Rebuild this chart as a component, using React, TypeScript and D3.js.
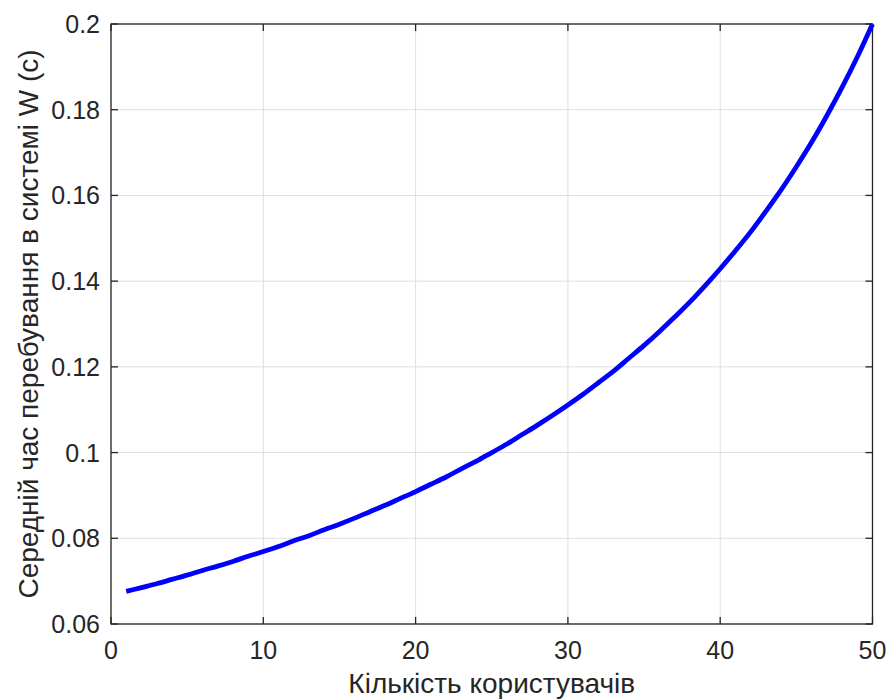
import React from "react";
import * as d3 from "d3";

const users = [1,2,3,4,5,6,7,8,9,10,11,12,13,14,15,16,17,18,19,20,21,22,23,24,25,26,27,28,29,30,31,32,33,34,35,36,37,38,39,40,41,42,43,44,45,46,47,48,49,50];
const waitTime = [0.0676,0.0685,0.0694,0.0704,0.0714,0.0725,0.0735,0.0746,0.0758,0.0769,0.0781,0.0794,0.0806,0.0820,0.0833,0.0847,0.0862,0.0877,0.0893,0.0909,0.0926,0.0943,0.0962,0.0980,0.1000,0.1020,0.1042,0.1064,0.1087,0.1111,0.1136,0.1163,0.1190,0.1220,0.1250,0.1282,0.1316,0.1351,0.1389,0.1429,0.1471,0.1515,0.1563,0.1613,0.1667,0.1724,0.1786,0.1852,0.1923,0.2000];
const xTicks = [0, 10, 20, 30, 40, 50];
const yTicks = [0.06, 0.08, 0.1, 0.12, 0.14, 0.16, 0.18, 0.2];
const xLabel = "Кількість користувачів";
const yLabel = "Середній час перебування в системі W (с)";

export default function App() {
  const W = 890, H = 699;
  const left = 111, right = 872.5, top = 24, bottom = 624;
  const x = d3.scaleLinear().domain([0, 50]).range([left, right]);
  const y = d3.scaleLinear().domain([0.06, 0.2]).range([bottom, top]);
  const line = d3.line<number>().x((_, i) => x(users[i])).y((d) => y(d)).curve(d3.curveMonotoneX);
  const font = "'Liberation Sans', Arial, sans-serif";
  const txt = "#262626";
  const axisCol = "#262626";
  const fmt = (v: number) => String(+v.toFixed(2));
  return (
    <svg width={W} height={H} style={{ position: "absolute", left: 0, top: 0, background: "#fff" }} fontFamily={font}>
      <rect x={0} y={0} width={W} height={H} fill="#fff" />
      {xTicks.map((t) => (
        <line key={"gx" + t} x1={x(t)} x2={x(t)} y1={top} y2={bottom} stroke="#dfdfdf" strokeWidth={1} />
      ))}
      {yTicks.map((t) => (
        <line key={"gy" + t} x1={left} x2={right} y1={y(t)} y2={y(t)} stroke="#dfdfdf" strokeWidth={1} />
      ))}
      <rect x={left} y={top} width={right - left} height={bottom - top} fill="none" stroke={axisCol} strokeWidth={1.3} />
      {xTicks.map((t) => (
        <g key={"tx" + t}>
          <line x1={x(t)} x2={x(t)} y1={bottom} y2={bottom - 7} stroke={axisCol} strokeWidth={1.3} />
          <line x1={x(t)} x2={x(t)} y1={top} y2={top + 7} stroke={axisCol} strokeWidth={1.3} />
          <text x={x(t)} y={659} textAnchor="middle" fontSize={25} fill={txt}>{t}</text>
        </g>
      ))}
      {yTicks.map((t) => (
        <g key={"ty" + t}>
          <line x1={left} x2={left + 7} y1={y(t)} y2={y(t)} stroke={axisCol} strokeWidth={1.3} />
          <line x1={right} x2={right - 7} y1={y(t)} y2={y(t)} stroke={axisCol} strokeWidth={1.3} />
          <text x={100} y={y(t)} dy="0.36em" textAnchor="end" fontSize={25} fill={txt}>{fmt(t)}</text>
        </g>
      ))}
      <path d={line(waitTime) || ""} fill="none" stroke="#0000ff" strokeWidth={4.8} strokeLinejoin="round" />
      <text x={(left + right) / 2} y={693} textAnchor="middle" fontSize={28} fill={txt}>{xLabel}</text>
      <text transform={`translate(38, ${(top + bottom) / 2}) rotate(-90)`} textAnchor="middle" fontSize={28} fill={txt}>{yLabel}</text>
    </svg>
  );
}
